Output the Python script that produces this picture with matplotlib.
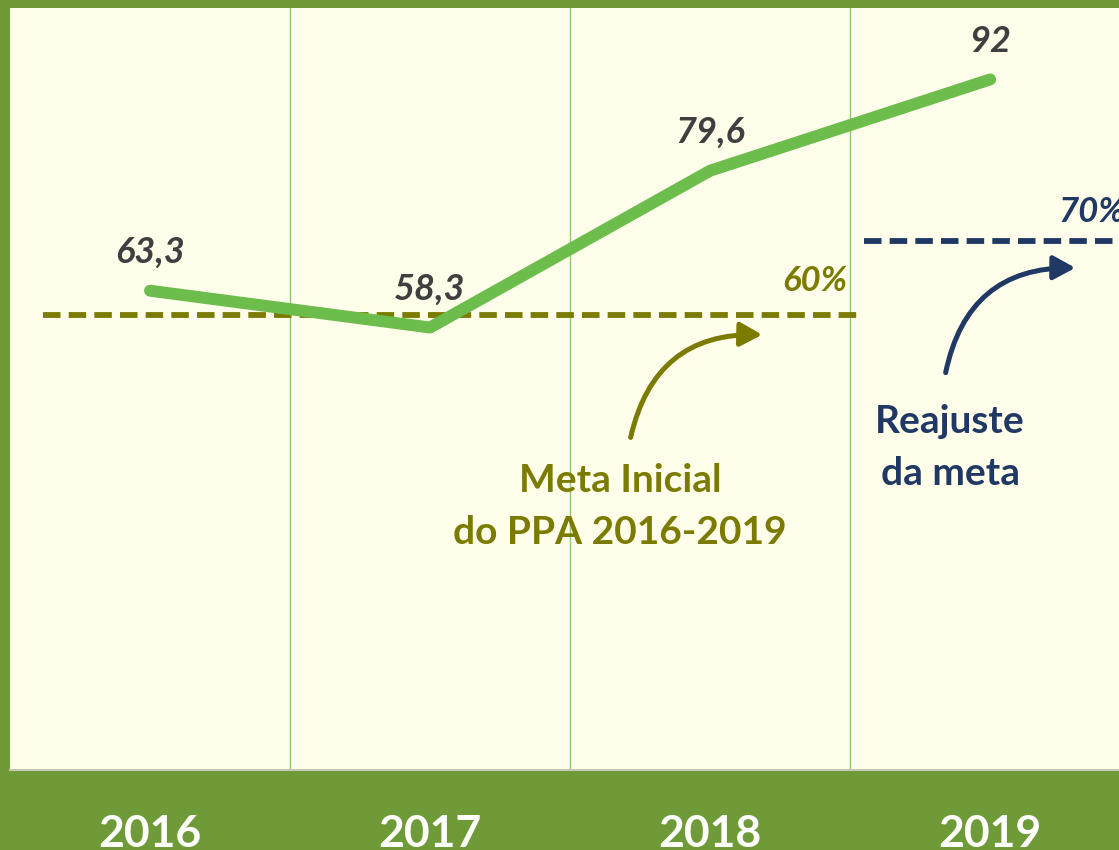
import matplotlib.pyplot as plt
from matplotlib.patches import FancyArrowPatch

# dados
anos = ['2016', '2017', '2018', '2019']
valores = [63.3, 58.3, 79.6, 92]
rotulos = ['63,3', '58,3', '79,6', '92']
meta_inicial = 60
meta_reajuste = 70

verde_borda = '#6F9A38'
fundo = '#FEFEEB'
verde_linha = '#6CBD4C'
oliva = '#7B7B00'
azul = '#203864'
cinza = '#3F3F3F'
fonte = ['Lato', 'DejaVu Sans']

fig = plt.figure(figsize=(11.19, 8.5), dpi=100, facecolor=verde_borda)
ax = fig.add_axes([10/1119, 80/850, 1 - 10/1119, (770 - 8)/850])
ax.set_facecolor(fundo)

x = list(range(len(anos)))
ax.plot(x, valores, color=verde_linha, lw=8.6, solid_capstyle='round', zorder=3)
for xi, v, r in zip(x, valores, rotulos):
    ax.annotate(r, (xi, v), xytext=(0, 38), textcoords='offset pixels',
                ha='center', va='center', fontsize=26, fontweight='bold',
                fontstyle='italic', color=cinza, family=fonte, zorder=4)

# linhas de meta
ax.plot([-0.382, 2.529], [meta_inicial, meta_inicial], color=oliva, lw=4.2,
        dashes=(3.0, 1.4), zorder=2)
ax.plot([2.55, 3.6], [meta_reajuste, meta_reajuste], color=azul, lw=4.2,
        dashes=(3.0, 1.4), zorder=2)
ax.text(2.49, 64.6, '60%', ha='right', va='center', fontsize=25, fontweight='bold',
        fontstyle='italic', color=oliva, family=fonte)
ax.text(3.243, 74.0, '70%', ha='left', va='center', fontsize=25, fontweight='bold',
        fontstyle='italic', color=azul, family=fonte)

# setas curvas
ax.add_patch(FancyArrowPatch((1.714, 43.0), (2.196, 57.3), connectionstyle='arc3,rad=-0.42',
                             arrowstyle='-|>,head_length=11,head_width=6', color=oliva,
                             lw=3.6, mutation_scale=1.2))
ax.add_patch(FancyArrowPatch((2.839, 51.8), (3.314, 66.4), connectionstyle='arc3,rad=-0.42',
                             arrowstyle='-|>,head_length=11,head_width=6', color=azul,
                             lw=3.6, mutation_scale=1.2))

ax.text(1.679, 34.0, 'Meta Inicial\ndo PPA 2016-2019', ha='center', va='center',
        fontsize=28, fontweight='bold', color=oliva, family=fonte, linespacing=1.58)
ax.text(2.857, 42.0, 'Reajuste\nda meta', ha='center', va='center',
        fontsize=28, fontweight='bold', color=azul, family=fonte, linespacing=1.58)

for g in [0.5, 1.5, 2.5]:
    ax.axvline(g, color='#8CCB6B', lw=1, zorder=1)

ax.set_xlim(-0.5, 3.46)
ax.set_ylim(-1.8, 101.7)
ax.set_yticks([])
ax.set_xticks(x)
ax.set_xticklabels(anos, fontsize=32, fontweight='bold', color='white', family=fonte)
ax.tick_params(axis='x', length=0, pad=32)
for s in ['top', 'left', 'right']:
    ax.spines[s].set_visible(False)
ax.spines['bottom'].set_color('#C8C8B8')
ax.spines['bottom'].set_linewidth(1.5)

fig.savefig('out.png', dpi=100, facecolor=verde_borda)
